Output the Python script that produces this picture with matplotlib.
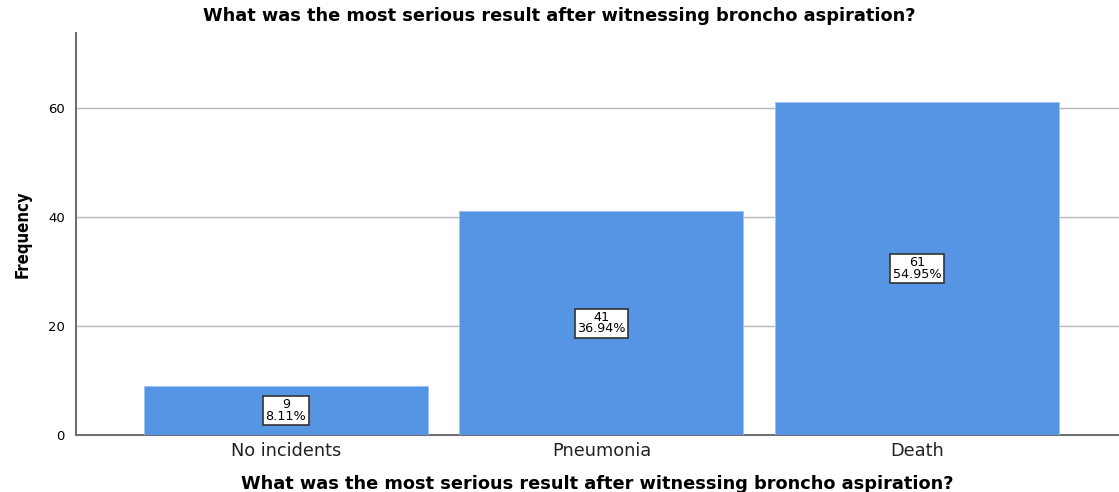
import matplotlib.pyplot as plt

categories = ['No incidents', 'Pneumonia', 'Death']
counts = [9, 41, 61]
percents = ['8.11%', '36.94%', '54.95%']
y_ticks = [0, 20, 40, 60]

TITLE = 'What was the most serious result after witnessing broncho aspiration?'
BAR_COLOR = '#5595e3'

plt.rcParams['font.family'] = ['DejaVu Sans']

fig = plt.figure(figsize=(11.19, 4.92), dpi=100)
ax = fig.add_axes([0.068, 0.116, 0.932, 0.817])

x = list(range(len(categories)))
ax.bar(x, counts, width=0.9, color=BAR_COLOR, edgecolor='#9cc2f0',
       linewidth=0.6, zorder=3)

for xi, c, p in zip(x, counts, percents):
    ax.text(xi, c / 2, f'{c}\n{p}', ha='center', va='center', fontsize=9.2,
            linespacing=0.85, zorder=4,
            bbox=dict(boxstyle='square,pad=0.18', facecolor='white',
                      edgecolor='#333333', linewidth=1.2))

ax.set_xlim(-0.665, 2.64)
ax.set_ylim(0, 73.7)
ax.set_yticks(y_ticks)
ax.set_xticks(x)
ax.set_xticklabels(categories, fontsize=12.8, color='#222222')
ax.tick_params(axis='y', labelsize=9.5, length=0, pad=8)
ax.tick_params(axis='x', length=0, pad=5)
ax.yaxis.grid(True, color='#b8b8b8', linewidth=1, zorder=0)
ax.set_axisbelow(True)

for side in ['top', 'right']:
    ax.spines[side].set_visible(False)
for side in ['left', 'bottom']:
    ax.spines[side].set_color('#707070')
    ax.spines[side].set_linewidth(1.5)

# title sits centred on the whole figure, axis label on the axes
fig.suptitle(TITLE, x=0.5, y=0.985, fontsize=12.8, fontweight='bold',
             va='top')
ax.set_xlabel(TITLE, fontsize=12.8, fontweight='bold', labelpad=11)
ax.set_ylabel('Frequency', fontsize=12, fontweight='bold', labelpad=12,
              fontstretch='condensed')

fig.savefig('out.png', dpi=100)
